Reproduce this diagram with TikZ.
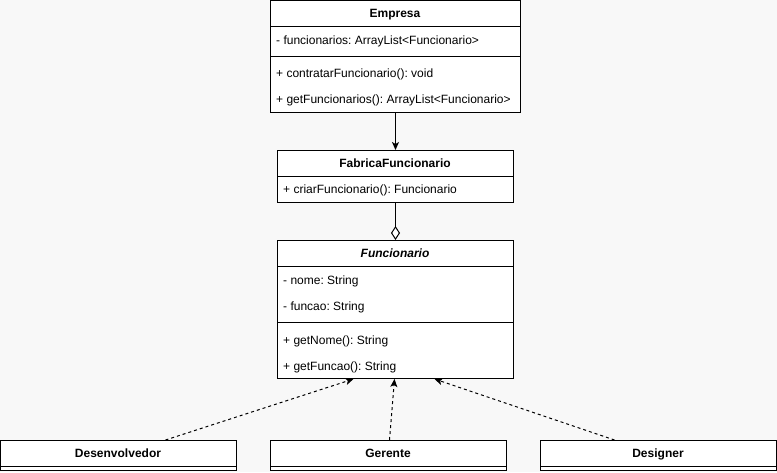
\documentclass[tikz,border=0pt]{standalone}
\usepackage{fontspec}
\setmainfont{Liberation Sans}
\usetikzlibrary{arrows.meta}
\definecolor{canvas}{RGB}{248,248,248}
\frenchspacing
\begin{document}
\begin{tikzpicture}[x=1pt,y=-1pt,
  txt/.style={font=\fontsize{12}{14}\selectfont,text height=8.6pt,text depth=0pt,inner sep=0pt},
  classbox/.style={draw=black,line width=1pt,fill=white,anchor=north west,inner sep=0pt},
  header/.style={txt,font=\fontsize{12}{14}\selectfont\bfseries},
  member/.style={txt,anchor=west},
  sep/.style={draw=black,line width=1pt},
  link/.style={draw=black,line width=1pt},
  solidhead/.style={-{Stealth[length=8pt,width=7pt,inset=2pt]}},
  realize/.style={link,dash pattern=on 3pt off 3pt,-{Stealth[length=8pt,width=7pt,inset=2pt]}}
]
% canvas
\fill[canvas] (0,0) rectangle (777,472);
\useasboundingbox (0,0) rectangle (777,472);

% Empresa
\node[classbox,minimum width=250pt,minimum height=112pt] (emp) at (270,0) {};
\node[header] (empH) at (395,13.5) {Empresa};
\draw[sep] (270,26) -- (520,26);
\node[member] (empA1) at (276,40.5) {- funcionarios: ArrayList<Funcionario>};
\draw[sep] (270,56) -- (520,56);
\node[member] (empM1) at (276,73.5) {+ contratarFuncionario(): void};
\node[member] (empM2) at (276,99.5) {+ getFuncionarios(): ArrayList<Funcionario>};

% FabricaFuncionario
\node[classbox,minimum width=236pt,minimum height=52pt] (fab) at (277,150) {};
\node[header] (fabH) at (395,163.5) {FabricaFuncionario};
\draw[sep] (277,176) -- (513,176);
\node[member] (fabM1) at (283,189.5) {+ criarFuncionario(): Funcionario};

% Funcionario (abstract)
\node[classbox,minimum width=236pt,minimum height=138pt] (func) at (277,240) {};
\node[header,font=\fontsize{12}{14}\selectfont\bfseries\itshape] (funcH) at (395,253.5) {Funcionario};
\draw[sep] (277,266) -- (513,266);
\node[member] (funcA1) at (283,280.5) {- nome: String};
\node[member] (funcA2) at (283,306.5) {- funcao: String};
\draw[sep] (277,322) -- (513,322);
\node[member] (funcM1) at (283,340.5) {+ getNome(): String};
\node[member] (funcM2) at (283,366.5) {+ getFuncao(): String};

% Concrete classes
\node[classbox,minimum width=236pt,minimum height=30pt] (dev) at (0,440) {};
\node[header] (devH) at (118,453.5) {Desenvolvedor};
\draw[sep] (0,466) -- (236,466);

\node[classbox,minimum width=236pt,minimum height=30pt] (ger) at (270,440) {};
\node[header] (gerH) at (388,453.5) {Gerente};
\draw[sep] (270,466) -- (506,466);

\node[classbox,minimum width=236pt,minimum height=30pt] (des) at (540,440) {};
\node[header] (desH) at (658,453.5) {Designer};
\draw[sep] (540,466) -- (776,466);

% Connectors
\draw[link,solidhead] (emp.south) -- (fab.north);
\draw[link,-{Diamond[open,fill=white,length=14pt,width=9pt]}] (fab.south) -- (func.north);
\draw[realize] ([xshift=47pt]dev.north) -- ([xshift=-42pt]func.south);
\draw[realize] ([xshift=1pt]ger.north) -- ([xshift=-1pt]func.south);
\draw[realize] ([xshift=-44pt]des.north) -- ([xshift=39pt]func.south);
\end{tikzpicture}
\end{document}
